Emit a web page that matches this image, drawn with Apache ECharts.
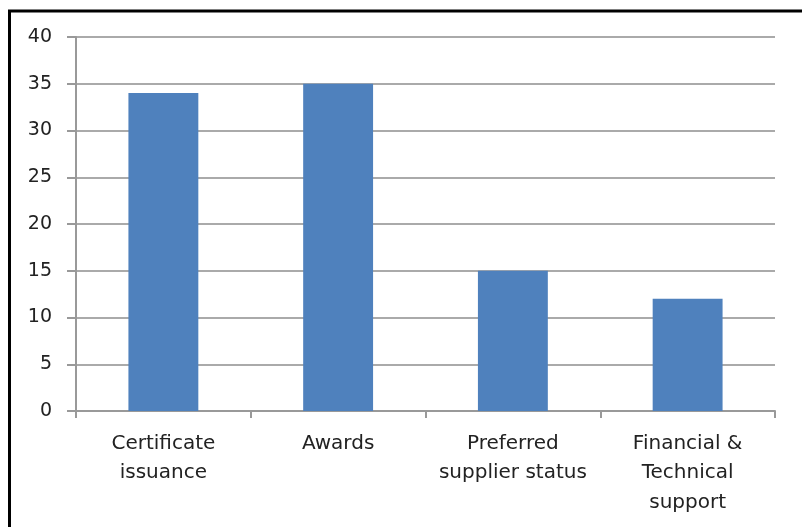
<!DOCTYPE html>
<html>
<head>
<meta charset="utf-8">
<script src="https://cdn.jsdelivr.net/npm/echarts@6/dist/echarts.min.js"></script>
<style>
html,body{margin:0;padding:0;background:#fff;}
#c{width:802px;height:527px;}
</style>
</head>
<body>
<div id="c"></div>
<script>
var categories = ["Certificate\nissuance", "Awards", "Preferred\nsupplier status", "Financial &\nTechnical\nsupport"];
var values = [34, 35, 15, 12];
var yTicks = {min: 0, max: 40, interval: 5};

var chart = echarts.init(document.getElementById('c'));
chart.setOption({
  animation: false,
  backgroundColor: '#fff',
  graphic: [{
    type: 'rect',
    shape: {x: 9.5, y: 11, width: 900, height: 700},
    style: {fill: 'none', stroke: '#000', lineWidth: 3}
  }],
  grid: {left: 76, right: 27, top: 37, bottom: 116, containLabel: false},
  xAxis: {
    type: 'category',
    data: categories,
    axisLine: {lineStyle: {color: '#999', width: 2}},
    axisTick: {show: true, length: 7, alignWithLabel: false, lineStyle: {color: '#999', width: 2}},
    axisLabel: {color: '#222', fontSize: 20, fontFamily: 'DejaVu Sans', lineHeight: 29.5, margin: 18, interval: 0}
  },
  yAxis: {
    type: 'value',
    min: yTicks.min, max: yTicks.max, interval: yTicks.interval,
    axisLine: {show: true, lineStyle: {color: '#999', width: 2}},
    axisTick: {show: true, length: 9, lineStyle: {color: '#999', width: 2}},
    axisLabel: {color: '#222', fontSize: 19, fontFamily: 'DejaVu Sans', margin: 24},
    splitLine: {lineStyle: {color: '#aaa', width: 2}}
  },
  series: [{
    type: 'bar',
    data: values,
    barWidth: '40%',
    itemStyle: {color: '#4F81BD'}
  }]
});
</script>
</body>
</html>
